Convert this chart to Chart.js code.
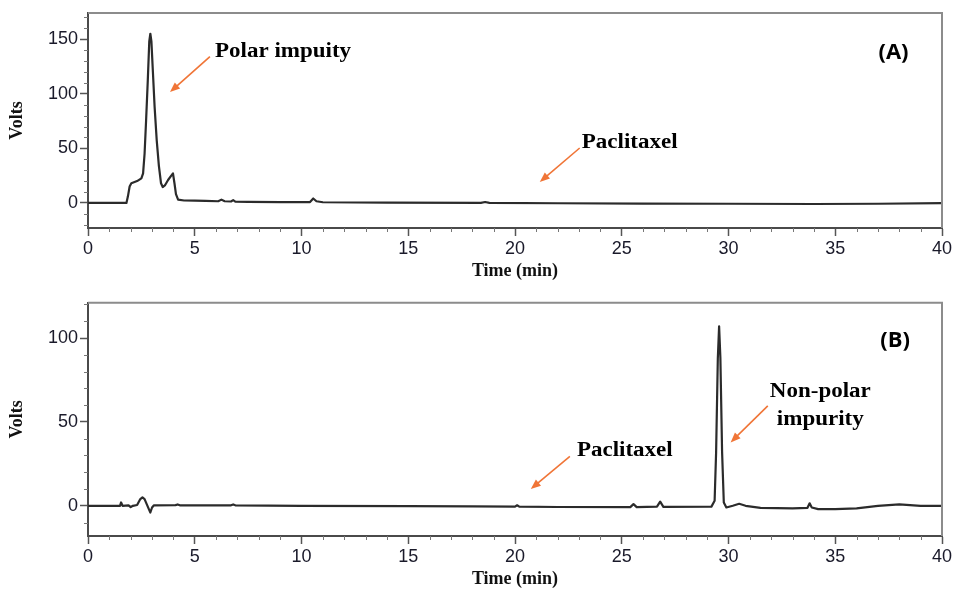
<!DOCTYPE html>
<html>
<head>
<script src="https://cdn.jsdelivr.net/npm/chart.js@4.4.0/dist/chart.umd.min.js"></script>
<style>
    body { margin: 0; background: #fff; }
    .panel { position: absolute; left: 0; width: 959px; }
</style>
<title>HPLC chromatograms</title>
</head>
<body>
<div class="panel" style="top:0;height:290px"><canvas id="chartA" width="959" height="290"></canvas></div>
<div class="panel" style="top:290px;height:303px"><canvas id="chartB" width="959" height="303"></canvas></div>
<script>
// panel (A) trace, time in min / signal in volts
var timeA = [0, 1.8, 1.87, 1.95, 2.03, 2.3, 2.5, 2.58, 2.65, 2.72, 2.8, 2.87, 2.92, 2.97, 3.04, 3.12, 3.22, 3.32, 3.42, 3.5, 3.6, 3.75, 3.9, 3.98, 4.05, 4.12, 4.22, 4.5, 5, 5.5, 6.1, 6.25, 6.4, 6.7, 6.8, 6.9, 7.5, 9, 10.4, 10.55, 10.7, 11, 14, 18.4, 18.6, 18.8, 22, 26, 30, 34, 37, 40];
var voltsA = [0, 0, 6, 15, 18, 20, 22.5, 27, 45, 75, 112, 148, 155, 148, 120, 88, 57, 34, 18, 14.5, 16, 21, 25, 27, 18, 8, 3, 2.2, 2, 1.8, 1.5, 3, 1.5, 1.3, 2.5, 1.2, 1, 0.8, 0.8, 4, 1.5, 0.6, 0.3, 0, 0.8, 0, -0.3, -0.6, -0.8, -1, -0.8, -0.2];

// panel (B) trace
var timeB = [0, 1.5, 1.55, 1.62, 1.9, 2.0, 2.1, 2.3, 2.45, 2.55, 2.65, 2.75, 2.85, 2.92, 3.0, 3.08, 4.1, 4.2, 4.3, 6.7, 6.8, 6.9, 10, 15, 18, 20, 20.1, 20.2, 22, 25.4, 25.55, 25.7, 26.65, 26.8, 26.95, 29.2, 29.35, 29.42, 29.5, 29.56, 29.62, 29.7, 29.78, 29.9, 30.2, 30.5, 30.8, 31.5, 33, 33.7, 33.8, 33.9, 34.2, 35, 36, 37, 38, 39, 40];
var voltsB = [0, 0, 2, 0, 0.3, -0.8, 0, 0.5, 4, 5, 4, 1, -2, -4, -1, 0.2, 0.4, 0.8, 0.3, 0.3, 0.8, 0.3, 0, -0.2, -0.4, -0.5, 0.3, -0.5, -0.7, -0.8, 1, -0.8, -0.5, 2.5, -0.6, -0.5, 3, 32, 88, 107, 88, 32, 2, -1, 0, 1.2, 0, -1.2, -1.5, -1.2, 1.5, -1, -2, -2, -1.5, 0, 0.8, 0, 0];

var xTicks = [0, 5, 10, 15, 20, 25, 30, 35, 40];
var yTicksA = [0, 50, 100, 150];
var yTicksB = [0, 50, 100];

var notesA = [
    { text: 'Polar impuity', x: 5.95, y: 138, align: 'left', arrow: [5.71, 134, 3.84, 101.5] },
    { text: 'Paclitaxel', x: 23.13, y: 55, align: 'left', arrow: [23.03, 50.3, 21.16, 19.2] },
    { text: '(A)', x: 37.73, y: 138, align: 'center', sans: true }
];
var notesB = [
    { text: 'Non-polar', x: 34.3, y: 68, align: 'center' },
    { text: 'impurity', x: 34.3, y: 51, align: 'center', arrow: [31.84, 59.6, 30.1, 37.8] },
    { text: 'Paclitaxel', x: 22.9, y: 32.5, align: 'left', arrow: [22.57, 29.5, 20.74, 10] },
    { text: '(B)', x: 37.8, y: 98.6, align: 'center', sans: true }
];

var decor = {
    id: 'decor',
    afterDraw: function (chart) {
        var ctx = chart.ctx, a = chart.chartArea;
        var x = chart.scales.x, y = chart.scales.y;
        var notes = chart.options.plugins.decor.notes;
        ctx.save();
        // grey frame on top and right
        ctx.strokeStyle = '#8c8c8c';
        ctx.lineWidth = 2;
        ctx.beginPath();
        ctx.moveTo(a.left, a.top);
        ctx.lineTo(a.right, a.top);
        ctx.lineTo(a.right, a.bottom);
        ctx.stroke();
        // minor ticks
        ctx.strokeStyle = '#777';
        ctx.lineWidth = 1;
        ctx.beginPath();
        for (var t = 1; t < 40; t++) {
            if (t % 5 === 0) continue;
            var px = Math.round(x.getPixelForValue(t)) + 0.5;
            ctx.moveTo(px, a.bottom);
            ctx.lineTo(px, a.bottom + 4);
        }
        for (var v = Math.ceil(y.min / 10) * 10; v <= y.max; v += 10) {
            if (v % 50 === 0) continue;
            var py = Math.round(y.getPixelForValue(v)) + 0.5;
            ctx.moveTo(a.left - 4, py);
            ctx.lineTo(a.left, py);
        }
        ctx.stroke();
        // labels and arrows
        notes.forEach(function (n) {
            var tx = x.getPixelForValue(n.x), ty = y.getPixelForValue(n.y);
            ctx.save();
            ctx.fillStyle = '#000';
            ctx.textBaseline = 'middle';
            ctx.textAlign = n.align;
            ctx.font = n.sans ? 'bold 22px "Open Sans", sans-serif' : 'bold 20px "Liberation Serif", "Times New Roman", serif';
            ctx.translate(tx, ty);
            ctx.scale(n.sans ? 1 : 1.15, 1);
            ctx.fillText(n.text, 0, 0);
            ctx.restore();
            if (n.arrow) {
                var x1 = x.getPixelForValue(n.arrow[0]), y1 = y.getPixelForValue(n.arrow[1]);
                var x2 = x.getPixelForValue(n.arrow[2]), y2 = y.getPixelForValue(n.arrow[3]);
                var ang = Math.atan2(y2 - y1, x2 - x1);
                ctx.strokeStyle = '#f07537';
                ctx.fillStyle = '#f07537';
                ctx.lineWidth = 1.6;
                ctx.beginPath();
                ctx.moveTo(x1, y1);
                ctx.lineTo(x2 - 6 * Math.cos(ang), y2 - 6 * Math.sin(ang));
                ctx.stroke();
                ctx.beginPath();
                ctx.moveTo(x2, y2);
                ctx.lineTo(x2 - 10 * Math.cos(ang) + 4 * Math.sin(ang), y2 - 10 * Math.sin(ang) - 4 * Math.cos(ang));
                ctx.lineTo(x2 - 10 * Math.cos(ang) - 4 * Math.sin(ang), y2 - 10 * Math.sin(ang) + 4 * Math.cos(ang));
                ctx.closePath();
                ctx.fill();
            }
        });
        ctx.restore();
    }
};

function makeChart(id, times, volts, yMin, yMax, yTicks, notes, padTop, xAxisH, xTitlePad) {
    var pts = times.map(function (t, i) { return { x: t, y: volts[i] }; });
    return new Chart(document.getElementById(id).getContext('2d'), {
        type: 'line',
        data: {
            datasets: [{
                data: pts,
                borderColor: '#2b2b2b',
                borderWidth: 2.2,
                borderJoinStyle: 'round',
                pointRadius: 0,
                fill: false,
                tension: 0
            }]
        },
        options: {
            responsive: false,
            animation: false,
            layout: { padding: { top: padTop, right: 17, left: 0, bottom: 0 } },
            plugins: {
                legend: { display: false },
                tooltip: { enabled: false },
                decor: { notes: notes }
            },
            scales: {
                x: {
                    type: 'linear',
                    min: 0,
                    max: 40,
                    afterBuildTicks: function (s) { s.ticks = xTicks.map(function (v) { return { value: v }; }); },
                    afterFit: function (s) { s.height = xAxisH; },
                    grid: { drawOnChartArea: false, tickLength: 8, color: '#555', tickWidth: 1.5 },
                    border: { color: '#4a4a4a', width: 2 },
                    ticks: { padding: 2, maxRotation: 0, color: '#1a1a2a', font: { family: '"Liberation Sans", Arial, sans-serif', size: 18 } },
                    title: {
                        display: true,
                        text: 'Time (min)',
                        color: '#111',
                        font: { family: '"Liberation Serif", "Times New Roman", serif', size: 18, weight: 'bold' },
                        padding: { top: 0, bottom: xTitlePad }
                    }
                },
                y: {
                    min: yMin,
                    max: yMax,
                    afterBuildTicks: function (s) { s.ticks = yTicks.map(function (v) { return { value: v }; }); },
                    afterFit: function (s) { s.width = 88; },
                    grid: { drawOnChartArea: false, tickLength: 8, color: '#555', tickWidth: 1.5 },
                    border: { color: '#4a4a4a', width: 2 },
                    ticks: { padding: 2, color: '#1a1a2a', font: { family: '"Liberation Sans", Arial, sans-serif', size: 18 } },
                    title: {
                        display: true,
                        text: 'Volts',
                        color: '#111',
                        font: { family: '"Liberation Serif", "Times New Roman", serif', size: 18, weight: 'bold' },
                        padding: { top: 7, bottom: 0 }
                    }
                }
            }
        },
        plugins: [decor]
    });
}

var chartA = makeChart('chartA', timeA, voltsA, -23, 174, yTicksA, notesA, 13, 62, 8);
var chartB = makeChart('chartB', timeB, voltsB, -18, 121, yTicksB, notesB, 10, 57, 3);
</script>
</body>
</html>
